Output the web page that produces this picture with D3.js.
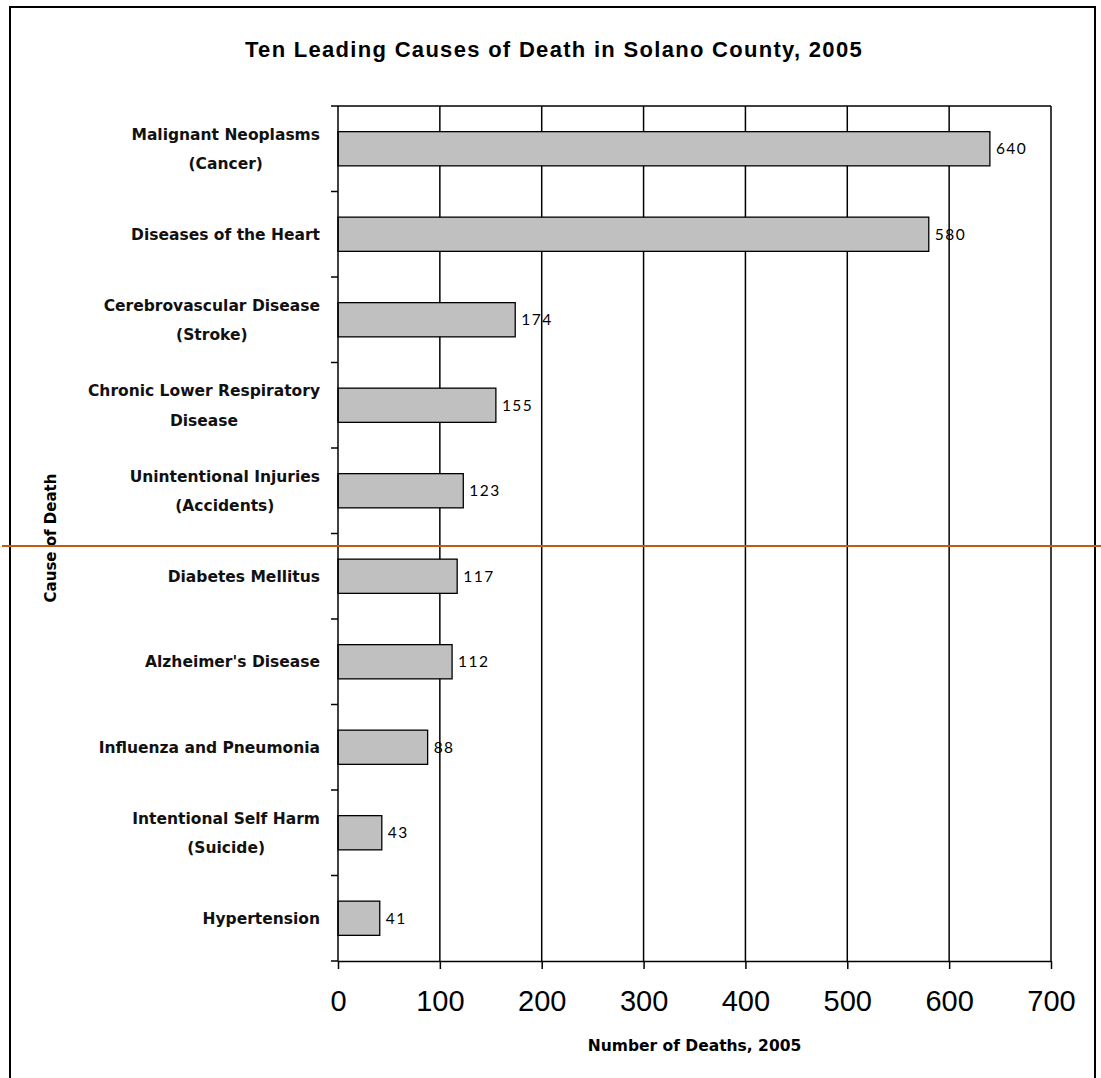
<!DOCTYPE html>
<html>
<head>
<meta charset="utf-8">
<script src="https://cdn.jsdelivr.net/npm/d3@7"></script>
<style>
  body { margin: 0; background: #fff; }
</style>
</head>
<body>
<script>
const causes = [
  "Malignant Neoplasms\n(Cancer)",
  "Diseases of the Heart",
  "Cerebrovascular Disease\n(Stroke)",
  "Chronic Lower Respiratory\nDisease",
  "Unintentional Injuries\n(Accidents)",
  "Diabetes Mellitus",
  "Alzheimer's Disease",
  "Influenza and Pneumonia",
  "Intentional Self Harm\n(Suicide)",
  "Hypertension"
];
const deaths = [640, 580, 174, 155, 123, 117, 112, 88, 43, 41];
const xTicks = [0, 100, 200, 300, 400, 500, 600, 700];

const title = "Ten Leading Causes of Death in Solano County, 2005";
const xTitle = "Number of Deaths, 2005";
const yTitle = "Cause of Death";

const width = 1101, height = 1078;
const plotLeft = 338, plotRight = 1051, plotTop = 106, plotBottom = 961;
const boldFont = "'DejaVu Sans', sans-serif";
const valueFont = "Lato, sans-serif";

const data = causes.map((c, i) => ({cause: c, value: deaths[i]}));

const svg = d3.select("body").append("svg")
    .attr("width", width)
    .attr("height", height);

// outer chart frame (bottom edge runs off the picture)
svg.append("rect")
    .attr("x", 10).attr("y", 7)
    .attr("width", 1085).attr("height", 1100)
    .attr("fill", "none")
    .attr("stroke", "#000")
    .attr("stroke-width", 2);

const x = d3.scaleLinear().domain([0, 700]).range([plotLeft, plotRight]);
const y = d3.scaleBand()
    .domain(causes)
    .range([plotTop, plotBottom])
    .paddingInner(0.6)
    .paddingOuter(0.3);
const step = y.step();

svg.append("text")
    .attr("x", 554)
    .attr("y", 57)
    .attr("text-anchor", "middle")
    .style("font", "bold 22px 'Liberation Sans', Arial, sans-serif")
    .style("letter-spacing", "1.3px")
    .text(title);

// vertical grid lines
svg.append("g")
    .selectAll("line")
    .data(xTicks.slice(1))
    .join("line")
    .attr("x1", d => x(d)).attr("x2", d => x(d))
    .attr("y1", plotTop).attr("y2", plotBottom)
    .attr("stroke", "#000")
    .attr("stroke-width", 1.5);

// top border of plot area
svg.append("line")
    .attr("x1", plotLeft).attr("x2", plotRight)
    .attr("y1", plotTop).attr("y2", plotTop)
    .attr("stroke", "#000")
    .attr("stroke-width", 1.5);

// bars
svg.append("g")
    .selectAll("rect")
    .data(data)
    .join("rect")
    .attr("x", x(0))
    .attr("y", d => y(d.cause))
    .attr("width", d => x(d.value) - x(0))
    .attr("height", y.bandwidth())
    .attr("fill", "#c0c0c0")
    .attr("stroke", "#000")
    .attr("stroke-width", 1.3);

// value labels
svg.append("g")
    .selectAll("text")
    .data(data)
    .join("text")
    .attr("x", d => x(d.value) + 6)
    .attr("y", d => y(d.cause) + y.bandwidth() / 2 + 5.5)
    .style("font", "15.5px " + valueFont)
    .style("letter-spacing", "1.5px")
    .text(d => d.value);

// x axis
const xAxis = svg.append("g")
    .attr("transform", `translate(0,${plotBottom})`)
    .call(d3.axisBottom(x).tickValues(xTicks).tickSize(8).tickSizeOuter(0).tickPadding(21));
xAxis.select(".domain").attr("stroke-width", 1.5);
xAxis.selectAll(".tick line").attr("stroke-width", 1.5);
xAxis.selectAll("text")
    .attr("fill", "#000")
    .style("font", "29px 'Liberation Sans', Arial, sans-serif");

// y axis: line plus ticks at category boundaries
svg.append("line")
    .attr("x1", plotLeft).attr("x2", plotLeft)
    .attr("y1", plotTop).attr("y2", plotBottom)
    .attr("stroke", "#000")
    .attr("stroke-width", 1.5);
svg.append("g")
    .selectAll("line")
    .data(d3.range(causes.length + 1))
    .join("line")
    .attr("x1", plotLeft - 7).attr("x2", plotLeft)
    .attr("y1", i => plotTop + i * step).attr("y2", i => plotTop + i * step)
    .attr("stroke", "#000")
    .attr("stroke-width", 1.5);

// category labels, each block centred on itself and right aligned to x=320
const labels = svg.append("g")
    .selectAll("text")
    .data(data)
    .join("text")
    .style("font", "bold 15.5px " + boldFont)
    .attr("fill", "#111")
    .attr("text-anchor", "middle");

labels.each(function(d) {
  const lines = d.cause.split("\n");
  const t = d3.select(this);
  const cy = y(d.cause) + y.bandwidth() / 2;
  lines.forEach((ln, i) => {
    t.append("tspan")
      .attr("y", cy + (i - (lines.length - 1) / 2) * 29.5 + 5.5)
      .text(ln);
  });
  let w = 0;
  t.selectAll("tspan").each(function() { w = Math.max(w, this.getComputedTextLength()); });
  t.selectAll("tspan").attr("x", 320 - w / 2);
});

svg.append("text")
    .attr("x", (plotLeft + plotRight) / 2)
    .attr("y", 1051)
    .attr("text-anchor", "middle")
    .style("font", "bold 15.5px " + boldFont)
    .text(xTitle);

svg.append("text")
    .attr("transform", "translate(56,538) rotate(-90)")
    .attr("text-anchor", "middle")
    .style("font", "bold 15px " + boldFont)
    .text(yTitle);

// orange rule across the page
svg.append("line")
    .attr("x1", 2).attr("x2", width)
    .attr("y1", 546).attr("y2", 546)
    .attr("stroke", "#c65911")
    .attr("stroke-width", 2);
</script>
</body>
</html>
